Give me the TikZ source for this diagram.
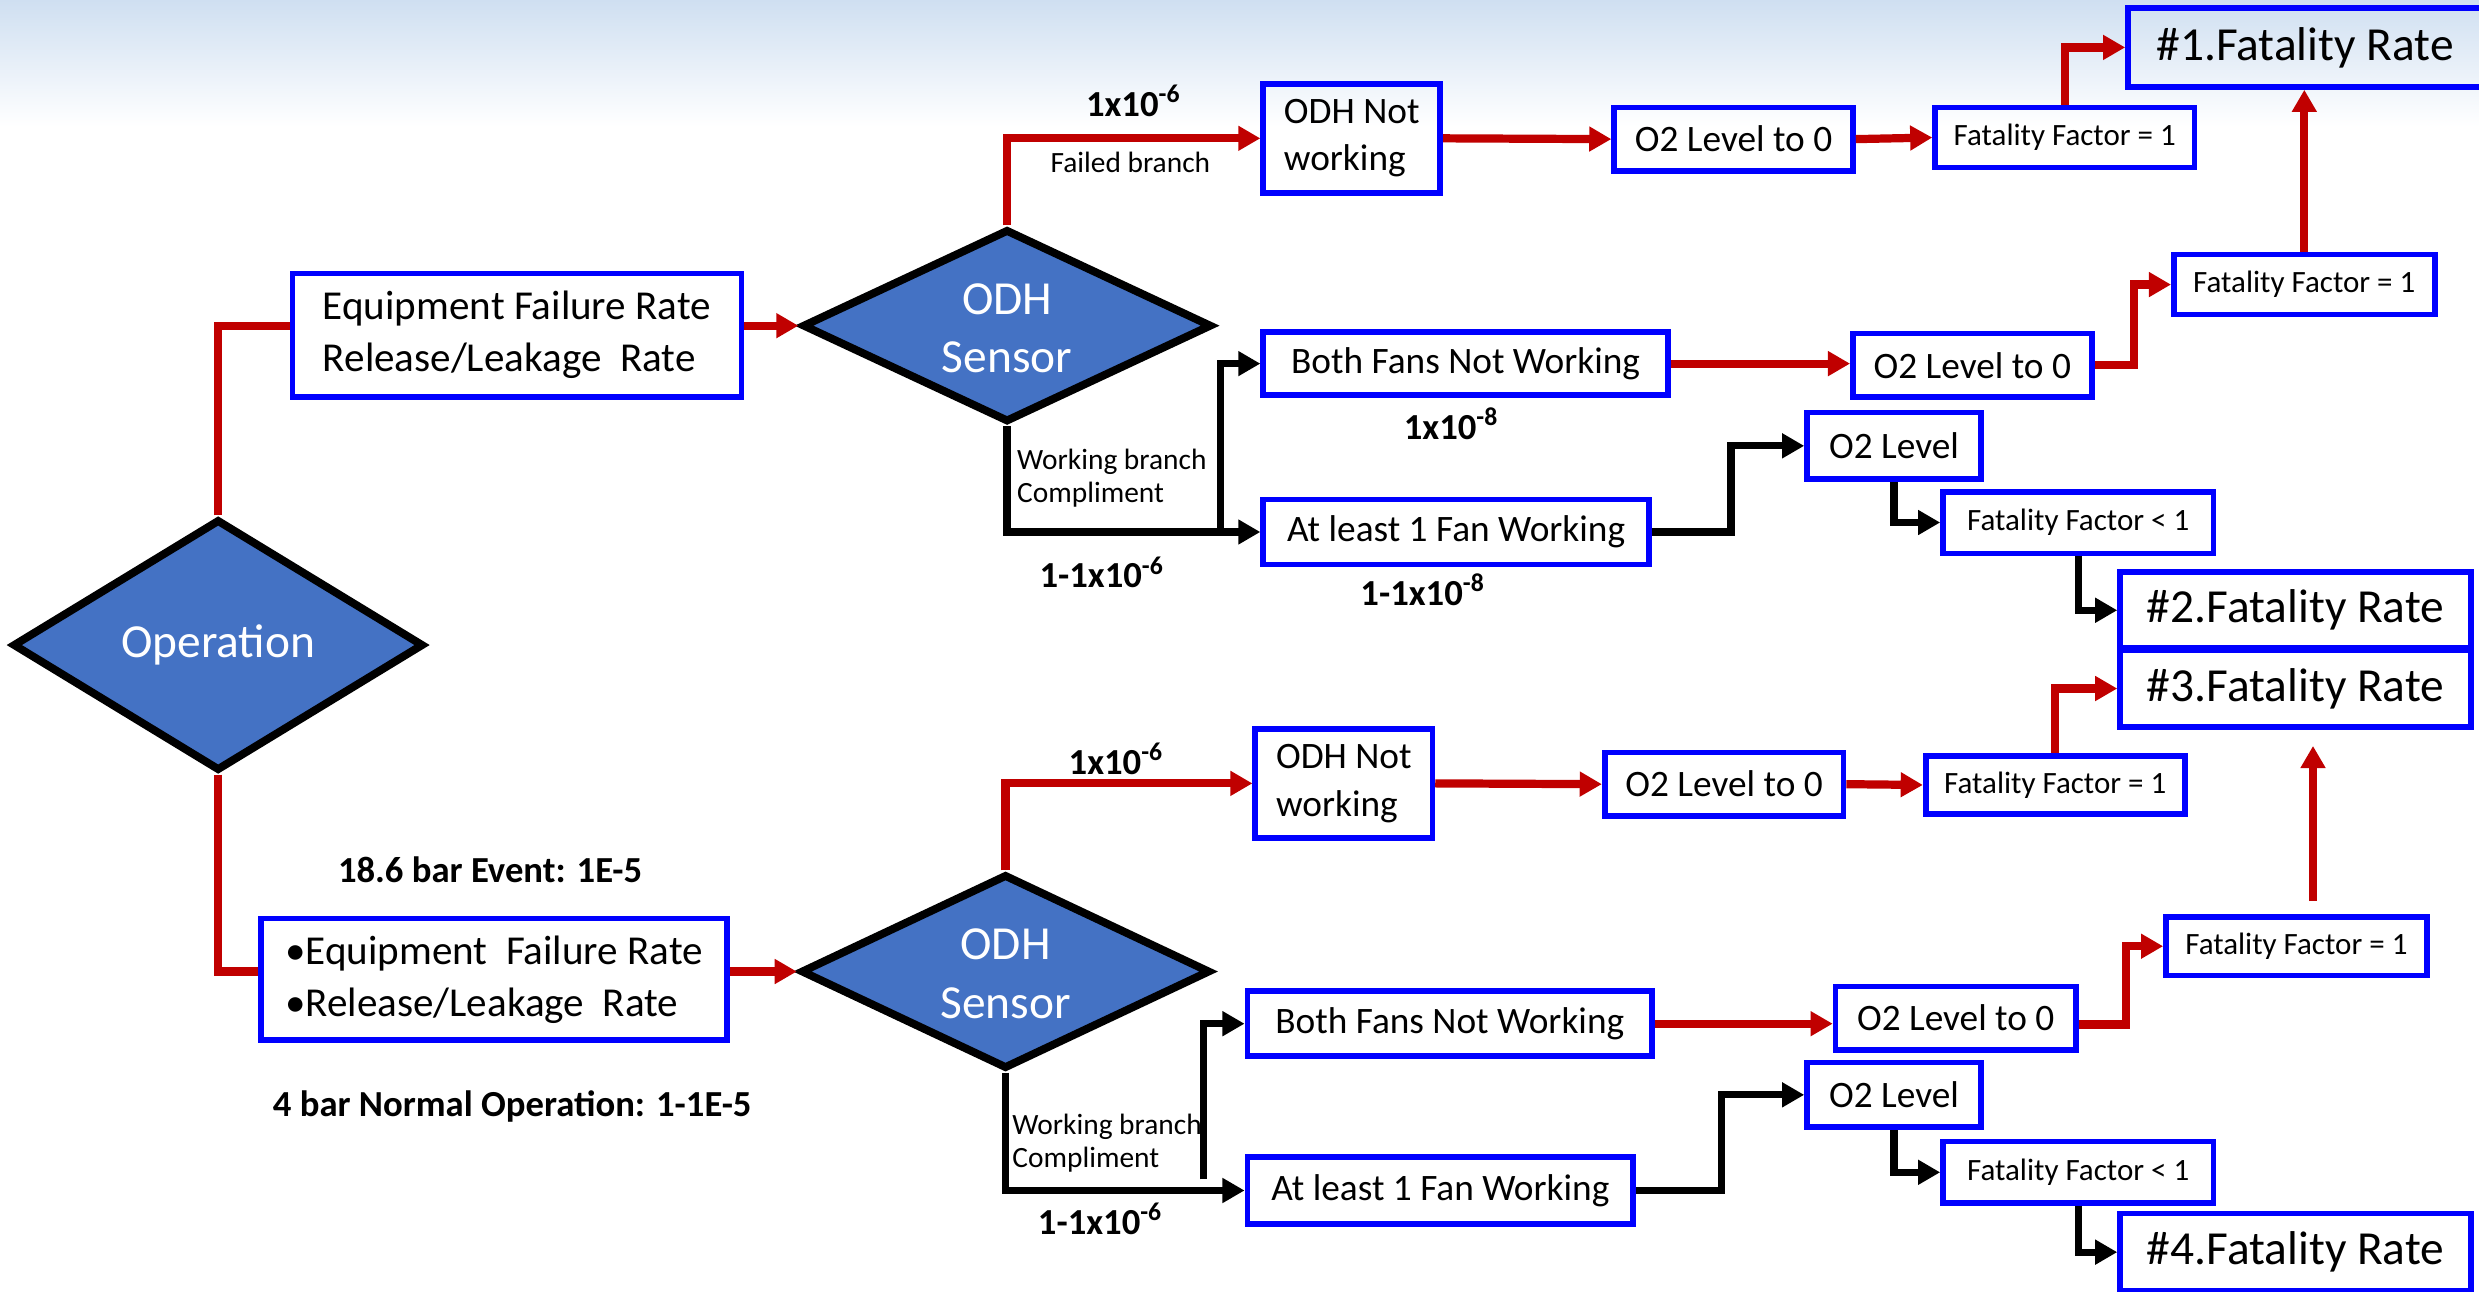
\documentclass[tikz,border=0pt]{standalone}
\usepackage{fontspec}
\setmainfont{Carlito}
\usetikzlibrary{shapes.geometric,arrows.meta}
\definecolor{bblue}{HTML}{0000FF}
\definecolor{rred}{HTML}{C00000}
\definecolor{dfill}{HTML}{4472C4}
\definecolor{bgtop}{HTML}{CFDFF1}
\newcommand{\fsbox}{\fontsize{11.8pt}{16pt}\selectfont}
\newcommand{\fseq}{\fontsize{13pt}{16.5pt}\selectfont}
\newcommand{\fsff}{\fontsize{9.8pt}{12pt}\selectfont}
\newcommand{\fsfr}{\fontsize{15pt}{18pt}\selectfont}
\newcommand{\fsdia}{\fontsize{15pt}{18.5pt}\selectfont}
\newcommand{\fslab}{\fontsize{11.6pt}{14pt}\selectfont\bfseries}
\newcommand{\fssm}{\fontsize{9.3pt}{10.5pt}\selectfont}
\tikzset{
  bx/.style={draw=bblue, line width=1.8pt, inner sep=0pt, align=left, font=\fsbox},
  eqbox/.style={bx, font=\fseq},
  ffbox/.style={bx, font=\fsff},
  frbox/.style={bx, font=\fsfr},
  dia/.style={shape=diamond, draw=black, line width=2.5pt, fill=dfill, inner sep=0pt},
  diatext/.style={text=white, font=\fsdia, align=center, inner sep=0pt},
  lab/.style={font=\fslab, inner sep=0pt},
  sm/.style={font=\fssm, inner sep=0pt},
  rc/.style={draw=rred, line width=2.6pt, -{Triangle[length=7pt,width=7.5pt]}},
  rl/.style={draw=rred, line width=2.6pt},
  bc/.style={draw=black, line width=2.3pt, -{Triangle[length=7pt,width=7.5pt]}},
}
\begin{document}
\begin{tikzpicture}[x=0.5pt,y=-0.5pt]
\useasboundingbox (0,0) rectangle (1568,817.2);
\fill[top color=bgtop, bottom color=white] (0,0) rectangle (1568,80);

% diamonds
\node[dia, minimum width=130pt, minimum height=79.5pt] (op) at (138,408) {};
\node[diatext] (opt) at (op.center) {Operation};
\node[dia, minimum width=129.5pt, minimum height=61pt] (odh1) at (637,206) {};
\node[diatext] (odh1t) at (637,207.5) {ODH\\Sensor};
\node[dia, minimum width=129.5pt, minimum height=61.5pt] (odh2) at (636,614.5) {};
\node[diatext] (odh2t) at (636,616) {ODH\\Sensor};

% boxes, upper tree
\node[eqbox, minimum width=142pt, minimum height=39pt] (eq1) at (327,212) {Equipment\ Failure Rate\\Release/Leakage\ \ Rate};
\node[bx, minimum width=56pt, minimum height=34.5pt, font=\fontsize{11.8pt}{15pt}\selectfont] (odhn1) at (855,87.5) {ODH Not\\working};
\node[bx, minimum width=75.5pt, minimum height=20pt] (o2z1) at (1096.5,88) {O2 Level to 0};
\node[ffbox, minimum width=82pt, minimum height=19pt] (ff1a) at (1306,87) {Fatality Factor = 1};
\node[frbox, minimum width=112pt, minimum height=25pt] (fr1) at (1458,30) {\#1.Fatality Rate};
\node[bx, minimum width=128pt, minimum height=20pt] (bf1) at (927,230) {Both Fans Not Working};
\node[bx, minimum width=122pt, minimum height=20.5pt] (al1) at (921,336.5) {At least 1 Fan Working};
\node[bx, minimum width=75.5pt, minimum height=20pt] (o2z1b) at (1247.5,231) {O2 Level to 0};
\node[ffbox, minimum width=82.5pt, minimum height=19pt] (ff1b) at (1457.5,180) {Fatality Factor = 1};
\node[bx, minimum width=55pt, minimum height=21pt] (o2l1) at (1198,282) {O2 Level};
\node[ffbox, minimum width=85.5pt, minimum height=19.5pt] (ffl1) at (1314.5,330.5) {Fatality Factor < 1};
\node[frbox, minimum width=111pt, minimum height=24pt] (fr2) at (1452,386) {\#2.Fatality Rate};
\node[frbox, minimum width=111pt, minimum height=24.5pt] (fr3) at (1452,435.5) {\#3.Fatality Rate};

% boxes, lower tree
\node[eqbox, minimum width=147.5pt, minimum height=38.5pt] (eq2) at (312.5,619.5) {•Equipment\ \ Failure Rate\\•Release/Leakage\ \ Rate};
\node[bx, minimum width=56pt, minimum height=34.5pt, font=\fontsize{11.8pt}{15pt}\selectfont] (odhn2) at (850,495.5) {ODH Not\\working};
\node[bx, minimum width=75.5pt, minimum height=20pt] (o2z2) at (1090.5,496) {O2 Level to 0};
\node[ffbox, minimum width=82pt, minimum height=18.5pt] (ff2a) at (1300,496.5) {Fatality Factor = 1};
\node[bx, minimum width=128pt, minimum height=20.5pt] (bf2) at (917,647.5) {Both Fans Not Working};
\node[bx, minimum width=122pt, minimum height=21pt] (al2) at (911,753) {At least 1 Fan Working};
\node[bx, minimum width=76pt, minimum height=20pt] (o2z2b) at (1237,644) {O2 Level to 0};
\node[ffbox, minimum width=82.5pt, minimum height=18.5pt] (ff2b) at (1452.5,598.5) {Fatality Factor = 1};
\node[bx, minimum width=55pt, minimum height=20.5pt] (o2l2) at (1198,692.5) {O2 Level};
\node[ffbox, minimum width=85.5pt, minimum height=19.5pt] (ffl2) at (1314.5,741.5) {Fatality Factor < 1};
\node[frbox, minimum width=111pt, minimum height=24.5pt] (fr4) at (1452,792) {\#4.Fatality Rate};

% labels
\node[lab] (l1) at (717,64) {1x10\textsuperscript{-6}};
\node[sm] (l2) at (715,103) {Failed branch};
\node[sm, anchor=west, align=left] (l3) at (643,302.5) {Working branch\\Compliment};
\node[lab] (l4) at (697,362) {1-1x10\textsuperscript{-6}};
\node[lab] (l5) at (918,268) {1x10\textsuperscript{-8}};
\node[lab] (l6) at (900,373) {1-1x10\textsuperscript{-8}};
\node[lab] (l7) at (310,550) {18.6 bar Event: 1E-5};
\node[lab] (l8) at (324,700) {4 bar Normal Operation: 1-1E-5};
\node[lab] (l9) at (706,480) {1x10\textsuperscript{-6}};
\node[sm, anchor=west, align=left] (l10) at (640,723) {Working branch\\Compliment};
\node[lab] (l11) at (696,771) {1-1x10\textsuperscript{-6}};

% connectors upper
\draw[rl] (op.north) |- (eq1.west |- odh1.west);
\draw[rc] (eq1.east |- odh1.west) -- (odh1.west);
\draw[rc] (odh1.north) |- (odhn1.west);
\draw[rc] (odhn1.east) -- (o2z1.west);
\draw[rc] (o2z1.east) -- (ff1a.west);
\draw[rc] (ff1a.north) |- (fr1.west);
\draw[bc] (odh1.south) |- (al1.west);
\coordinate (j1) at (772,336.5);
\draw[bc] (j1) |- (bf1.west);
\draw[rc] (bf1.east) -- (bf1.east -| o2z1b.west);
\draw[rc] (o2z1b.east) -- ++(25,0) |- (ff1b.west);
\draw[rc] (ff1b.north) -- (ff1b.north |- fr1.south);
\draw[bc] (al1.east) -- ++(50,0) |- (o2l1.west);
\draw[bc] (o2l1.south) |- (ffl1.west);
\draw[bc] (ffl1.south) |- (fr2.west);

% connectors lower
\draw[rl] (op.south) |- (eq2.west |- odh2.west);
\draw[rc] (eq2.east |- odh2.west) -- (odh2.west);
\draw[rc] (odh2.north) |- (odhn2.west);
\draw[rc] (odhn2.east) -- (o2z2.west);
\draw[rc] (o2z2.east) -- (ff2a.west);
\draw[rc] (ff2a.north) |- (fr3.west);
\draw[bc] (odh2.south) |- (al2.west);
\coordinate (j2) at (761,746);
\draw[bc] (j2) |- (bf2.west);
\draw[rc] (bf2.east) -- (bf2.east -| o2z2b.west);
\draw[rc] (o2z2b.east) ++(0,4) -- ++(30,0) |- (ff2b.west);
\coordinate (u1) at (1463,570);
\draw[rc, shorten >=5pt] (u1) -- (u1 |- fr3.south);
\draw[bc] (al2.east) -- ++(54,0) |- (o2l2.west);
\draw[bc] (o2l2.south) |- (ffl2.west);
\draw[bc] (ffl2.south) |- (fr4.west);
\end{tikzpicture}
\end{document}
